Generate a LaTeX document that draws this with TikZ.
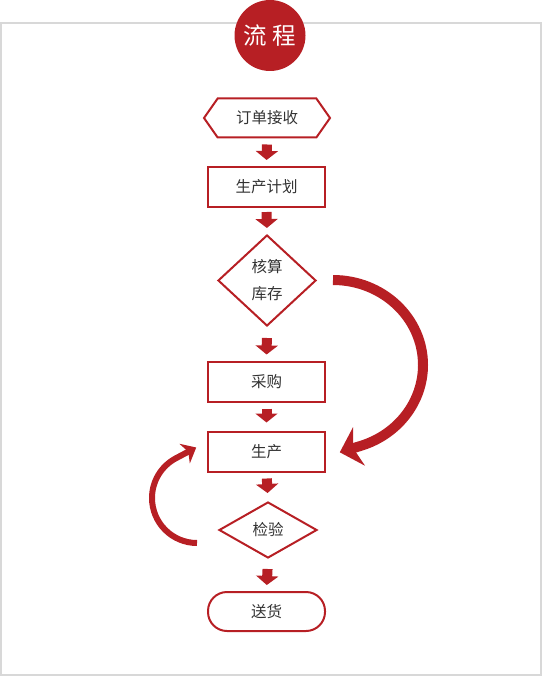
\documentclass[tikz,border=0pt]{standalone}
\usepackage{fontspec}
\setmainfont{Noto Sans CJK SC}
\usepackage{xcolor}
\usepackage{tikz}
\usetikzlibrary{shapes.geometric,shapes.symbols,arrows.meta}

\definecolor{flowred}{RGB}{183,31,36}
\definecolor{flowtext}{RGB}{51,51,51}
\definecolor{framegray}{RGB}{216,216,216}

\begin{document}
\begin{tikzpicture}[
        x=1pt, y=1pt,
        every node/.style={text=flowtext, font=\fontsize{15.5}{27}\selectfont},
        stepbox/.style={rectangle, draw=flowred, line width=2pt, minimum width=117pt, minimum height=40pt},
        startbox/.style={signal, signal to=west and east, signal pointer angle=110, draw=flowred, line width=2pt, minimum width=126pt, minimum height=39pt, inner sep=0pt},
        decide/.style={diamond, draw=flowred, line width=2pt, inner sep=0pt, align=center},
        endbox/.style={rectangle, rounded corners=19pt, draw=flowred, line width=2pt, minimum width=117pt, minimum height=39pt},
        flow/.style={-{Triangle[width=22pt,length=9pt]}, line width=10pt, draw=flowred},
        loop/.style={draw=flowred, line width=#1}
    ]
        \useasboundingbox (0,0) rectangle (542,-676);

        % Frame and title
        \draw[framegray, line width=2pt] (1,-23) rectangle (540.5,-675);
        \node[circle, fill=flowred, minimum size=71pt, inner sep=0pt, text=white, font=\fontsize{23.5}{23.5}\selectfont] (title) at (270,-35.5) {流 程};

        % Nodes
        \node[startbox] (order) at (267,-118) {订单接收};
        \node[stepbox] (plan) at (266.5,-187) {生产计划};
        \node[decide, minimum width=98pt, minimum height=91pt] (stock) at (267,-280.5) {核算\\库存};
        \node[stepbox] (buy) at (266.5,-381.5) {采购};
        \node[stepbox] (make) at (266.5,-451.5) {生产};
        \node[decide, minimum width=98pt, minimum height=56pt] (check) at (268,-530) {检验};
        \node[endbox] (ship) at (266.5,-611.5) {送货};

        % Edges
        \draw[flow, shorten <=6pt, shorten >=6pt] (order.south) -- (plan.north);
        \draw[flow, shorten <=4pt, shorten >=6pt] (plan.south) -- (stock.north);
        \draw[flow, shorten <=11pt, shorten >=6pt] (stock.south) -- (buy.north);
        \draw[flow, shorten <=6pt, shorten >=8pt] (buy.south) -- (make.north);
        \draw[flow, shorten <=6pt, shorten >=8pt] (make.south) -- (check.north);
        \draw[flow, shorten <=10pt, shorten >=6pt] (check.south) -- (ship.north);

        % Loops
        \coordinate (skipS) at (333,-280);
        \coordinate (skipT) at (339.8,-452.3);
        \draw[loop=10pt, -{Stealth[length=20pt,width=40pt,inset=6pt]}] (skipS) arc[start angle=90, end angle=-72, x radius=90, y radius=85] -- (skipT);

        \coordinate (redoS) at (197,-543);
        \coordinate (redoT) at (196.2,-447.5);
        \draw[loop=6pt, -{Stealth[length=13pt,width=22pt,inset=4pt]}] (redoS) arc[start angle=-90, end angle=-242, radius=45] -- (redoT);
    \end{tikzpicture}
\end{document}
